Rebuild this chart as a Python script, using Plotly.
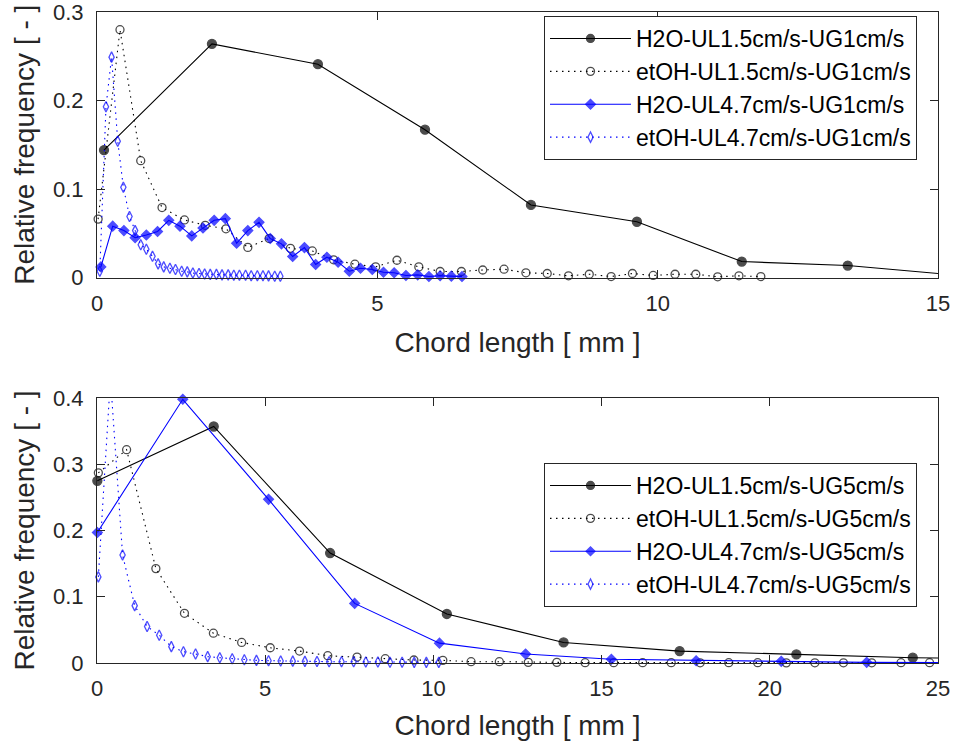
import plotly.graph_objects as go

# ---------------- data: top panel (UG = 1 cm/s) ----------------
t_h2o_15_x = [0.125, 2.05, 3.94, 5.85, 7.74, 9.63, 11.5, 13.39, 15.28]
t_h2o_15_y = [0.144, 0.264, 0.241, 0.167, 0.082, 0.063, 0.018, 0.0135, 0.003]

t_et_15_x = [0.02, 0.41, 0.78, 1.16, 1.56, 1.93, 2.30, 2.69, 3.07, 3.45, 3.84, 4.22,
             4.60, 4.97, 5.35, 5.74, 6.12, 6.50, 6.88, 7.26, 7.65, 8.03, 8.41, 8.78,
             9.17, 9.55, 9.92, 10.31, 10.68, 11.07, 11.45, 11.84]
t_et_15_y = [0.066, 0.280, 0.132, 0.079, 0.065, 0.059, 0.055, 0.034, 0.044, 0.033, 0.030, 0.020,
             0.015, 0.012, 0.0195, 0.012, 0.0068, 0.0068, 0.0085, 0.0094, 0.0053, 0.0045, 0.0019, 0.0037,
             0.0011, 0.0045, 0.0023, 0.0037, 0.0037, 0.0008, 0.0019, 0.0011]

t_h2o_47_x = [0.07, 0.28, 0.48, 0.68, 0.88, 1.08, 1.28, 1.48, 1.69, 1.89, 2.09, 2.29, 2.49,
              2.69, 2.89, 3.09, 3.29, 3.49, 3.70, 3.90, 4.10, 4.30, 4.50, 4.70, 4.91, 5.11,
              5.30, 5.51, 5.72, 5.92, 6.12, 6.32, 6.51]
t_h2o_47_y = [0.012, 0.058, 0.053, 0.045, 0.048, 0.052, 0.0646, 0.058, 0.047, 0.056, 0.0646, 0.0665, 0.0387,
              0.053, 0.0623, 0.044, 0.038, 0.0237, 0.0338, 0.0147, 0.0229, 0.0173, 0.0071, 0.0105, 0.009, 0.006,
              0.0053, 0.0023, 0.003, 0.0011, 0.0019, 0.0015, 0.0011]

t_et_47_x = [0.05, 0.16, 0.26, 0.37, 0.47, 0.58, 0.68, 0.78, 0.88, 0.99, 1.09, 1.19, 1.30, 1.40,
             1.51, 1.61, 1.71, 1.82, 1.92, 2.02, 2.13, 2.23, 2.34, 2.44, 2.54, 2.65, 2.75, 2.86,
             2.96, 3.06, 3.17, 3.27]
t_et_47_y = [0.007, 0.193, 0.249, 0.154, 0.102, 0.069, 0.053, 0.037, 0.032, 0.024, 0.0154, 0.012, 0.0105, 0.009,
             0.007, 0.0064, 0.005, 0.0045, 0.004, 0.0035, 0.0035, 0.003, 0.003, 0.0025, 0.0025, 0.0025, 0.002, 0.002,
             0.002, 0.0018, 0.0015, 0.0015]

# ---------------- data: bottom panel (UG = 5 cm/s) ----------------
b_h2o_15_x = [0.01, 3.47, 6.93, 10.4, 13.87, 17.32, 20.79, 24.25, 27.7]
b_h2o_15_y = [0.275, 0.357, 0.166, 0.074, 0.031, 0.018, 0.013, 0.008, 0.006]

b_et_15_x = [0.04, 0.88, 1.75, 2.60, 3.46, 4.30, 5.15, 6.02, 6.86, 7.73, 8.57, 9.42, 10.28, 11.12, 11.96,
             12.82, 13.67, 14.51, 15.36, 16.22, 17.07, 17.93, 18.78, 19.64, 20.49, 21.34, 22.19, 23.03, 23.90, 24.75]
b_et_15_y = [0.287, 0.322, 0.1425, 0.075, 0.045, 0.031, 0.023, 0.018, 0.011, 0.009, 0.0065, 0.0045, 0.004, 0.002, 0.002,
             0.001, 0.001, 0.0005, 0.0005, 0.0005, 0.0005, 0.0003, 0.0005, 0.0005, 0.0002, 0.0003, 0.0003, 0.0003, 0.0005, 0.0005]

b_h2o_47_x = [0.01, 2.55, 5.10, 7.66, 10.18, 12.74, 15.29, 17.81, 20.34, 22.88, 25.42]
b_h2o_47_y = [0.197, 0.398, 0.247, 0.090, 0.030, 0.0136, 0.0056, 0.0035, 0.0025, 0.001, 0.0008]

b_et_47_x = [0.04, 0.40, 0.76, 1.12, 1.49, 1.85, 2.21, 2.57, 2.93, 3.29, 3.65, 4.02, 4.38, 4.74, 5.10,
             5.46, 5.82, 6.18, 6.54, 6.90, 7.27, 7.63, 7.99, 8.35, 8.71, 9.07, 9.43, 9.79, 10.16]
b_et_47_y = [0.130, 0.43, 0.163, 0.0866, 0.055, 0.042, 0.0247, 0.017, 0.0136, 0.0096, 0.008, 0.0065, 0.005, 0.004, 0.0035,
             0.003, 0.0028, 0.0025, 0.0022, 0.002, 0.002, 0.0018, 0.0015, 0.0015, 0.0012, 0.0012, 0.001, 0.001, 0.001]

top_names = ["H2O-UL1.5cm/s-UG1cm/s", "etOH-UL1.5cm/s-UG1cm/s",
             "H2O-UL4.7cm/s-UG1cm/s", "etOH-UL4.7cm/s-UG1cm/s"]
bot_names = ["H2O-UL1.5cm/s-UG5cm/s", "etOH-UL1.5cm/s-UG5cm/s",
             "H2O-UL4.7cm/s-UG5cm/s", "etOH-UL4.7cm/s-UG5cm/s"]

top_range_x, top_range_y = [0, 15], [0, 0.3]
bot_range_x, bot_range_y = [0, 25], [0, 0.4]

FONT = "Liberation Sans, Arial, Helvetica, sans-serif"
AX = "#262626"
DOT = "1.5px,4.5px"

styles = [
    dict(color="black", dash="solid", symbol="circle", size=9),
    dict(color="black", dash=DOT, symbol="circle-open", size=8),
    dict(color="#0000ff", dash="solid", symbol="diamond", size=7.5),
    dict(color="#0000ff", dash=DOT, symbol="diamond-tall-open", size=7.5),
]

fig = go.Figure()


def add(xs, ys, name, st, xa, ya, legend, rx, ry):
    sizes = [st["size"] if (rx[0] <= x <= rx[1] and ry[0] <= y <= ry[1]) else 0
             for x, y in zip(xs, ys)]
    fig.add_trace(go.Scatter(
        x=xs, y=ys, name=name, mode="lines+markers",
        xaxis=xa, yaxis=ya, legend=legend, cliponaxis=False,
        line=dict(color=st["color"], width=1.1, dash=st["dash"]),
        marker=dict(symbol=st["symbol"], size=sizes, color=st["color"],
                    line=dict(color=st["color"], width=1.3)),
    ))


top_data = [(t_h2o_15_x, t_h2o_15_y), (t_et_15_x, t_et_15_y),
            (t_h2o_47_x, t_h2o_47_y), (t_et_47_x, t_et_47_y)]
bot_data = [(b_h2o_15_x, b_h2o_15_y), (b_et_15_x, b_et_15_y),
            (b_h2o_47_x, b_h2o_47_y), (b_et_47_x, b_et_47_y)]

for (xs, ys), nm, st in zip(top_data, top_names, styles):
    add(xs, ys, nm, st, "x", "y", "legend", top_range_x, top_range_y)
for (xs, ys), nm, st in zip(bot_data, bot_names, styles):
    add(xs, ys, nm, st, "x2", "y2", "legend2", bot_range_x, bot_range_y)

axis_common = dict(
    showline=True, mirror="ticks", linecolor=AX, linewidth=1,
    ticks="inside", ticklen=8, tickcolor=AX, tickwidth=1,
    showgrid=False, zeroline=False, automargin=False,
    ticklabeloverflow="allow",
    tickfont=dict(family=FONT, size=22, color=AX),
    title_font=dict(family=FONT, size=28, color=AX),
)
xax = dict(axis_common, ticklabelstandoff=6)
yax = dict(axis_common, ticklabelstandoff=8)

top_dom = [(663 - 277.5) / 651, 1.0]
bot_dom = [0.0, (663 - 398) / 651]

legend_common = dict(xanchor="right", yanchor="top", itemwidth=81,
                     bgcolor="white", bordercolor=AX, borderwidth=1,
                     font=dict(family=FONT, size=23, color="black"))

fig.update_layout(
    width=956, height=748,
    margin=dict(l=97, r=18, t=12, b=85),
    paper_bgcolor="white", plot_bgcolor="white",
    font=dict(family=FONT, color=AX),
    xaxis=dict(xax, range=top_range_x, tickvals=[0, 5, 10, 15],
               domain=[0, 1], anchor="y", title=dict(text="Chord length [ mm ]", standoff=17)),
    yaxis=dict(yax, range=top_range_y, tickvals=[0, 0.1, 0.2, 0.3],
               domain=top_dom, anchor="x", title=dict(text="Relative frequency [ - ]", standoff=10)),
    xaxis2=dict(xax, range=bot_range_x, tickvals=[0, 5, 10, 15, 20, 25],
                domain=[0, 1], anchor="y2", title=dict(text="Chord length [ mm ]", standoff=14)),
    yaxis2=dict(yax, range=bot_range_y, tickvals=[0, 0.1, 0.2, 0.3, 0.4],
                domain=bot_dom, anchor="x2", title=dict(text="Relative frequency [ - ]", standoff=10)),
    legend=dict(legend_common, x=(917 - 97) / 841, y=(663 - 16) / 651),
    legend2=dict(legend_common, x=(917 - 97) / 841, y=(663 - 463) / 651),
)

fig.write_html("out.html")
